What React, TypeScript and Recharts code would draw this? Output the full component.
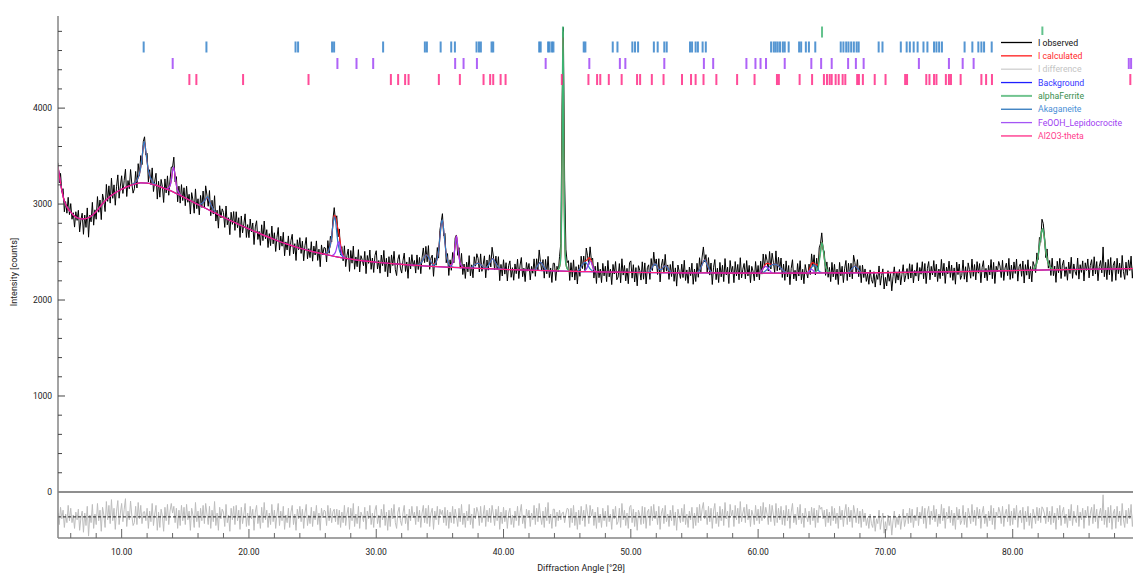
import { ComposedChart, Line, Scatter, XAxis, YAxis, ReferenceLine } from "recharts";

// scan grid: 5.0 .. 90.0 deg 2theta, 0.1 deg step
const ANGLE_START = 5.0;
const ANGLE_STEP = 0.1;

// I observed (counts), one row per degree
const observed = [
  3430, 3220, 3320, 3130, 3160, 2920, 3025, 2905, 3070, 2890,
  3005, 2842, 2910, 2760, 2920, 2830, 2935, 2710, 2837, 2905,
  2685, 2885, 2757, 2960, 2655, 2885, 2815, 3018, 2780, 2940,
  2842, 3078, 2915, 3042, 2838, 3105, 3038, 2922, 3205, 3028,
  3190, 3010, 3270, 3060, 3200, 2988, 3186, 3304, 3061, 3188,
  3295, 3111, 3247, 3363, 3079, 3245, 3160, 3360, 3210, 3114,
  3159, 3340, 3168, 3421, 3298, 3505, 3411, 3651, 3701, 3511,
  3528, 3231, 3358, 3205, 3377, 3131, 3239, 3321, 3052, 3237,
  3072, 3257, 3182, 3017, 3262, 3117, 3294, 3092, 3251, 3386,
  3385, 3489, 3232, 3286, 3024, 3187, 3010, 3203, 3037, 3170,
  2983, 3186, 3019, 3102, 2896, 3119, 3042, 2905, 3158, 2952,
  3055, 2888, 3090, 2965, 3136, 2962, 3190, 3094, 2977, 3141,
  2879, 3040, 2896, 3087, 2823, 2936, 2749, 2983, 2856, 2950,
  2913, 2757, 2980, 2784, 2858, 2681, 2915, 2789, 2922, 2726,
  2920, 2754, 2858, 2652, 2876, 2700, 2794, 2898, 2652, 2786,
  2650, 2844, 2709, 2803, 2578, 2762, 2826, 2631, 2715, 2570,
  2784, 2619, 2823, 2638, 2733, 2547, 2692, 2567, 2771, 2586,
  2701, 2506, 2651, 2756, 2521, 2666, 2561, 2706, 2461, 2606,
  2522, 2668, 2463, 2619, 2685, 2481, 2587, 2412, 2628, 2524,
  2650, 2486, 2613, 2409, 2566, 2652, 2429, 2535, 2442, 2608,
  2405, 2562, 2469, 2616, 2413, 2530, 2347, 2574, 2471, 2548,
  2542, 2397, 2619, 2487, 2664, 2606, 2844, 2963, 2821, 2878,
  2658, 2741, 2469, 2557, 2409, 2565, 2348, 2463, 2531, 2298,
  2516, 2384, 2562, 2321, 2449, 2347, 2525, 2293, 2462, 2420,
  2358, 2507, 2275, 2464, 2382, 2521, 2320, 2438, 2287, 2465,
  2514, 2323, 2412, 2280, 2469, 2358, 2517, 2296, 2435, 2243,
  2452, 2281, 2470, 2359, 2508, 2316, 2255, 2424, 2473, 2332,
  2281, 2410, 2489, 2298, 2397, 2226, 2445, 2324, 2473, 2352,
  2412, 2281, 2470, 2318, 2444, 2275, 2441, 2543, 2390, 2559,
  2398, 2567, 2320, 2436, 2468, 2247, 2440, 2363, 2547, 2437,
  2726, 2810, 2900, 2669, 2693, 2388, 2484, 2256, 2419, 2310,
  2495, 2388, 2647, 2678, 2466, 2546, 2332, 2486, 2266, 2375,
  2225, 2394, 2294, 2463, 2253, 2367, 2232, 2451, 2353, 2482,
  2435, 2292, 2481, 2299, 2368, 2460, 2232, 2417, 2311, 2471,
  2345, 2550, 2459, 2314, 2458, 2318, 2452, 2202, 2371, 2251,
  2420, 2270, 2389, 2199, 2358, 2408, 2237, 2337, 2206, 2376,
  2275, 2425, 2224, 2364, 2443, 2243, 2332, 2192, 2391, 2301,
  2381, 2210, 2350, 2279, 2429, 2247, 2430, 2313, 2522, 2402,
  2302, 2421, 2228, 2423, 2273, 2455, 2234, 2334, 2183, 2383,
  2383, 2203, 2352, 2292, 2452, 2591, 4001, 4841, 3250, 2530,
  2390, 2410, 2204, 2389, 2239, 2418, 2208, 2348, 2167, 2367,
  2247, 2457, 2328, 2458, 2308, 2542, 2462, 2370, 2554, 2414,
  2437, 2229, 2353, 2173, 2393, 2233, 2322, 2182, 2382, 2252,
  2352, 2192, 2412, 2242, 2321, 2161, 2371, 2271, 2401, 2211,
  2240, 2380, 2180, 2430, 2260, 2360, 2200, 2330, 2170, 2390,
  2408, 2228, 2368, 2188, 2338, 2148, 2358, 2308, 2208, 2398,
  2217, 2387, 2167, 2337, 2367, 2215, 2432, 2307, 2499, 2357,
  2428, 2266, 2431, 2189, 2356, 2426, 2281, 2476, 2301, 2366,
  2215, 2370, 2245, 2405, 2195, 2335, 2145, 2365, 2295, 2225,
  2374, 2234, 2414, 2204, 2314, 2174, 2344, 2254, 2384, 2164,
  2323, 2193, 2383, 2237, 2441, 2293, 2448, 2553, 2398, 2473,
  2287, 2442, 2260, 2386, 2162, 2342, 2422, 2212, 2332, 2182,
  2392, 2242, 2362, 2192, 2432, 2262, 2342, 2172, 2412, 2292,
  2351, 2181, 2401, 2251, 2371, 2211, 2441, 2231, 2321, 2381,
  2221, 2411, 2251, 2361, 2181, 2351, 2301, 2201, 2401, 2241,
  2360, 2210, 2405, 2270, 2480, 2340, 2475, 2413, 2302, 2506,
  2323, 2488, 2394, 2285, 2512, 2305, 2445, 2312, 2438, 2235,
  2374, 2205, 2408, 2240, 2360, 2160, 2330, 2420, 2220, 2310,
  2200, 2380, 2250, 2410, 2210, 2320, 2170, 2370, 2290, 2230,
  2374, 2266, 2481, 2349, 2471, 2261, 2436, 2306, 2544, 2587,
  2700, 2527, 2507, 2257, 2397, 2237, 2340, 2192, 2392, 2242,
  2372, 2212, 2322, 2162, 2392, 2252, 2352, 2182, 2332, 2412,
  2203, 2383, 2240, 2383, 2221, 2467, 2393, 2287, 2421, 2243,
  2359, 2181, 2364, 2234, 2324, 2194, 2274, 2164, 2314, 2214,
  2175, 2295, 2135, 2265, 2215, 2355, 2155, 2255, 2325, 2115,
  2236, 2146, 2306, 2196, 2276, 2096, 2246, 2346, 2176, 2286,
  2208, 2318, 2158, 2268, 2368, 2188, 2258, 2328, 2218, 2378,
  2229, 2369, 2179, 2309, 2249, 2389, 2199, 2339, 2269, 2399,
  2221, 2381, 2171, 2331, 2401, 2211, 2351, 2261, 2411, 2241,
  2373, 2193, 2323, 2223, 2423, 2253, 2383, 2173, 2343, 2273,
  2405, 2235, 2365, 2205, 2335, 2165, 2395, 2265, 2375, 2215,
  2257, 2417, 2217, 2347, 2187, 2387, 2317, 2227, 2427, 2247,
  2370, 2210, 2400, 2280, 2380, 2180, 2340, 2410, 2230, 2330,
  2202, 2362, 2262, 2422, 2222, 2392, 2172, 2352, 2292, 2402,
  2354, 2234, 2414, 2204, 2334, 2384, 2254, 2434, 2214, 2364,
  2227, 2397, 2277, 2427, 2197, 2347, 2377, 2247, 2407, 2177,
  2369, 2259, 2419, 2219, 2349, 2189, 2401, 2355, 2286, 2491,
  2422, 2652, 2602, 2842, 2797, 2662, 2442, 2532, 2332, 2412,
  2256, 2436, 2254, 2354, 2184, 2404, 2284, 2434, 2224, 2364,
  2416, 2246, 2346, 2206, 2396, 2276, 2446, 2226, 2376, 2296,
  2258, 2438, 2218, 2368, 2288, 2408, 2198, 2388, 2308, 2428,
  2231, 2361, 2421, 2251, 2451, 2271, 2401, 2201, 2351, 2411,
  2283, 2553, 2243, 2393, 2213, 2423, 2263, 2443, 2193, 2363,
  2405, 2205, 2435, 2275, 2385, 2235, 2465, 2295, 2215, 2395,
  2258, 2418, 2308, 2458, 2228, 2378, 2188, 2408, 2348, 2238,
  2370,
];

// I difference = observed - calculated, same grid
const difference = [
  40, -80, 100, -20, 70, -110, 30, -60, 120, -40,
  90, -60, 20, -120, 50, -30, 80, -140, -10, 60,
  -160, 40, -90, 110, -200, 20, -60, 130, -120, 30,
  -80, 140, -40, 70, -150, 100, 20, -110, 160, -30,
  120, -70, 180, -40, 90, -130, 60, 170, -80, 40,
  140, -50, 80, 190, -100, 60, -30, 165, 10, -90,
  -60, 110, -80, 150, -20, 120, -70, 50, 55, -40,
  90, -120, 60, -50, 140, -90, 30, 120, -140, 50,
  -110, 80, 10, -150, 100, -40, 130, -80, 60, 140,
  40, 110, -60, 90, -120, 70, -90, 120, -40, 100,
  -80, 130, -30, 60, -140, 90, 20, -110, 150, -50,
  60, -110, 90, -40, 120, -70, 140, 30, -80, 110,
  -120, 70, -50, 160, -90, 40, -140, 100, -20, 80,
  50, -100, 130, -60, 20, -150, 90, -30, 110, -80,
  120, -40, 70, -130, 100, -70, 30, 140, -100, 40,
  -90, 110, -20, 80, -140, 50, 120, -70, 20, -120,
  100, -60, 150, -30, 70, -110, 40, -80, 130, -50,
  70, -120, 30, 140, -90, 60, -40, 110, -130, 20,
  -60, 90, -110, 50, 120, -80, 30, -140, 80, -20,
  110, -50, 80, -120, 40, 130, -90, 20, -70, 100,
  -100, 60, -30, 120, -80, 40, -140, 90, -10, 70,
  60, -90, 120, -40, 90, -60, 55, 80, -50, 80,
  -80, 70, -110, 50, -60, 120, -90, 30, 100, -130,
  90, -40, 140, -100, 30, -70, 110, -120, 50, 10,
  -50, 100, -130, 60, -20, 120, -80, 40, -110, 70,
  120, -70, 20, -110, 80, -30, 130, -90, 50, -140,
  70, -100, 90, -20, 130, -60, -120, 50, 100, -40,
  -90, 40, 120, -70, 30, -140, 80, -40, 110, -10,
  50, -80, 110, -50, 70, -110, 40, 120, -60, 90,
  -70, 120, -100, 40, 90, -130, 60, -30, 110, -80,
  80, 25, 70, -60, 100, -90, 70, -120, 50, -60,
  110, -70, 80, 10, -100, 90, -50, 130, -80, 40,
  -110, 60, -40, 130, -80, 30, -120, 90, -20, 100,
  50, -90, 110, -60, 20, 120, -100, 70, -50, 90,
  -60, 120, 30, -90, 80, -40, 110, -130, 50, -70,
  100, -50, 70, -120, 40, 90, -80, 20, -110, 60,
  -40, 110, -90, 50, 130, -70, 20, -120, 80, -10,
  70, -100, 40, -30, 120, -80, 90, -50, 140, 10,
  -80, 60, -110, 100, -40, 150, -70, 30, -120, 80,
  80, -100, 50, -40, 70, -30, 40, 50, -60, 30,
  90, 80, -110, 90, -60, 120, -90, 50, -130, 70,
  -80, 110, -40, 70, -100, 130, 40, -70, 120, 10,
  80, -90, 50, -120, 100, -60, 30, -110, 90, -40,
  60, -100, 120, -50, 30, -130, 80, -20, 110, -80,
  -50, 90, -110, 140, -30, 70, -90, 40, -120, 100,
  120, -60, 80, -100, 50, -140, 70, 20, -80, 110,
  -70, 100, -120, 50, 80, -90, 110, -40, 130, -20,
  60, -80, 110, -130, 40, 90, -70, 120, -50, 30,
  -100, 70, -40, 120, -90, 50, -140, 80, 10, -60,
  90, -50, 130, -80, 30, -110, 60, -30, 100, -120,
  40, -90, 100, -60, 130, -40, 80, 150, -20, 70,
  -80, 110, -50, 90, -120, 60, 140, -70, 50, -100,
  110, -40, 80, -90, 150, -20, 60, -110, 130, 10,
  70, -100, 120, -30, 90, -70, 160, -50, 40, 100,
  -60, 130, -30, 80, -100, 70, 20, -80, 120, -40,
  80, -70, 110, -40, 150, -20, 100, 30, -80, 130,
  -50, 120, 20, -90, 140, -60, 90, -30, 110, -80,
  70, -90, 120, -40, 80, -120, 50, 140, -60, 30,
  -80, 100, -30, 130, -70, 40, -110, 90, 10, -50,
  60, -80, 100, -40, 90, -110, 70, -60, 120, 80,
  100, -20, 70, -100, 80, -60, 50, -90, 110, -40,
  90, -70, 40, -120, 110, -30, 70, -100, 50, 130,
  -80, 100, -50, 70, -110, 120, 40, -60, 90, -70,
  60, -110, 80, -50, 40, -90, -10, -120, 30, -70,
  -110, 10, -150, -20, -70, 70, -130, -30, 40, -170,
  -50, -140, 20, -90, -10, -190, -40, 60, -110, 0,
  -80, 30, -130, -20, 80, -100, -30, 40, -70, 90,
  -60, 80, -110, 20, -40, 100, -90, 50, -20, 110,
  -70, 90, -120, 40, 110, -80, 60, -30, 120, -50,
  80, -100, 30, -70, 130, -40, 90, -120, 50, -20,
  110, -60, 70, -90, 40, -130, 100, -30, 80, -80,
  -40, 120, -80, 50, -110, 90, 20, -70, 130, -50,
  70, -90, 100, -20, 80, -120, 40, 110, -70, 30,
  -100, 60, -40, 120, -80, 90, -130, 50, -10, 100,
  50, -70, 110, -100, 30, 80, -50, 130, -90, 60,
  -80, 90, -30, 120, -110, 40, 70, -60, 100, -130,
  60, -50, 110, -90, 40, -120, 80, 20, -70, 100,
  -40, 90, -60, 105, 80, 30, -70, 100, -50, 60,
  -80, 110, -60, 40, -130, 90, -30, 120, -90, 50,
  100, -70, 30, -110, 80, -40, 130, -90, 60, -20,
  -60, 120, -100, 50, -30, 90, -120, 70, -10, 110,
  -90, 40, 100, -70, 130, -50, 80, -120, 30, 90,
  -40, 230, -80, 70, -110, 100, -60, 120, -130, 40,
  80, -120, 110, -50, 60, -90, 140, -30, -110, 70,
  -70, 90, -20, 130, -100, 50, -140, 80, 20, -90,
  40,
];

// I calculated: [2theta, counts]
const calculated: [number, number][] = [
  [5.0, 3390], [5.25, 3180], [5.5, 3030], [5.75, 2960], [6.0, 2915], [6.5, 2858], [7.0, 2845], [7.5, 2865],
  [8.0, 2922], [8.5, 3005], [9.0, 3070], [9.5, 3118], [10.0, 3155], [10.5, 3185], [11.0, 3219], [11.1, 3230],
  [11.2, 3248], [11.3, 3271], [11.4, 3318], [11.5, 3385], [11.6, 3481], [11.7, 3601], [11.8, 3646], [11.9, 3551],
  [12.0, 3438], [12.1, 3351], [12.2, 3298], [12.3, 3255], [12.4, 3237], [12.5, 3221], [12.7, 3201], [13.0, 3182],
  [13.5, 3157], [13.6, 3164], [13.7, 3172], [13.8, 3191], [13.9, 3246], [14.0, 3345], [14.1, 3379], [14.2, 3292],
  [14.3, 3196], [14.4, 3144], [14.5, 3117], [14.7, 3083], [15.0, 3063], [15.5, 3029], [16.0, 2995], [16.2, 3000],
  [16.3, 3005], [16.4, 3016], [16.5, 3032], [16.6, 3050], [16.7, 3064], [16.8, 3057], [16.9, 3031], [17.0, 2999],
  [17.1, 2970], [17.2, 2946], [17.3, 2927], [17.5, 2896], [18.0, 2863], [19.0, 2800], [20.0, 2740], [21.0, 2684],
  [22.0, 2631], [23.0, 2582], [24.0, 2540], [25.0, 2505], [25.5, 2490], [26.0, 2482], [26.1, 2487], [26.2, 2499],
  [26.3, 2527], [26.4, 2574], [26.5, 2666], [26.6, 2789], [26.7, 2883], [26.8, 2871], [26.9, 2798], [27.0, 2738],
  [27.1, 2671], [27.2, 2579], [27.3, 2507], [27.4, 2469], [27.5, 2445], [27.7, 2433], [28.0, 2426], [29.0, 2408],
  [30.0, 2394], [31.0, 2382], [32.0, 2371], [33.0, 2362], [33.3, 2368], [33.4, 2374], [33.5, 2385], [33.6, 2401],
  [33.7, 2423], [33.8, 2450], [33.9, 2469], [34.0, 2468], [34.1, 2447], [34.2, 2420], [34.3, 2396], [34.4, 2378],
  [34.5, 2377], [34.6, 2380], [34.7, 2393], [34.8, 2437], [34.9, 2517], [35.0, 2646], [35.1, 2785], [35.2, 2830],
  [35.3, 2729], [35.4, 2593], [35.5, 2478], [35.6, 2414], [35.7, 2376], [35.8, 2369], [35.9, 2370], [36.0, 2385],
  [36.1, 2458], [36.2, 2567], [36.3, 2668], [36.4, 2566], [36.5, 2456], [36.6, 2382], [36.7, 2356], [36.8, 2346],
  [37.0, 2335], [37.5, 2337], [37.6, 2352], [37.7, 2361], [37.8, 2373], [37.9, 2382], [38.0, 2385], [38.1, 2382],
  [38.2, 2371], [38.3, 2359], [38.4, 2348], [38.5, 2340], [38.6, 2332], [38.7, 2347], [38.8, 2361], [38.9, 2381],
  [39.0, 2405], [39.1, 2430], [39.2, 2429], [39.3, 2404], [39.4, 2378], [39.5, 2358], [39.6, 2342], [39.7, 2332],
  [39.8, 2321], [41.0, 2315], [42.4, 2309], [42.5, 2327], [42.6, 2340], [42.7, 2363], [42.8, 2382], [42.9, 2392],
  [43.0, 2382], [43.1, 2361], [43.2, 2338], [43.3, 2323], [43.4, 2313], [43.6, 2305], [44.2, 2310], [44.35, 2330],
  [44.45, 2380], [44.52, 2560], [44.57, 3000], [44.62, 3900], [44.67, 4790], [44.72, 3900], [44.77, 3000], [44.82, 2560],
  [44.9, 2380], [45.0, 2330], [45.15, 2310], [45.5, 2298], [45.9, 2312], [46.0, 2327], [46.1, 2347], [46.2, 2368],
  [46.3, 2388], [46.4, 2406], [46.5, 2412], [46.6, 2422], [46.7, 2440], [46.8, 2434], [46.9, 2404], [47.0, 2357],
  [47.1, 2319], [47.2, 2303], [47.3, 2293], [49.0, 2290], [51.0, 2287], [51.4, 2287], [51.5, 2305], [51.6, 2322],
  [51.7, 2347], [51.8, 2369], [51.9, 2377], [52.0, 2368], [52.1, 2346], [52.2, 2321], [52.3, 2319], [52.4, 2316],
  [52.5, 2336], [52.6, 2351], [52.7, 2356], [52.8, 2351], [52.9, 2336], [53.0, 2315], [53.1, 2300], [53.2, 2285],
  [55.2, 2283], [55.3, 2297], [55.4, 2311], [55.5, 2333], [55.6, 2368], [55.7, 2403], [55.8, 2418], [55.9, 2403],
  [56.0, 2367], [56.1, 2332], [56.2, 2310], [56.3, 2296], [56.4, 2282], [60.1, 2280], [60.2, 2295], [60.3, 2310],
  [60.4, 2330], [60.5, 2360], [60.6, 2375], [60.7, 2383], [60.8, 2382], [60.9, 2376], [61.0, 2373], [61.1, 2368],
  [61.2, 2374], [61.3, 2375], [61.4, 2372], [61.5, 2365], [61.6, 2355], [61.7, 2342], [61.8, 2328], [61.9, 2315],
  [62.0, 2304], [62.1, 2295], [62.2, 2288], [62.3, 2280], [63.9, 2281], [64.0, 2314], [64.1, 2346], [64.2, 2381],
  [64.3, 2389], [64.4, 2381], [64.5, 2371], [64.6, 2366], [64.7, 2366], [64.8, 2424], [64.9, 2507], [65.0, 2600],
  [65.1, 2547], [65.2, 2437], [65.3, 2357], [65.4, 2317], [65.5, 2297], [65.6, 2290], [65.7, 2282], [67.1, 2283],
  [67.2, 2290], [67.3, 2313], [67.4, 2331], [67.5, 2347], [67.6, 2353], [67.7, 2347], [67.8, 2331], [67.9, 2313],
  [68.0, 2299], [68.1, 2291], [68.2, 2284], [70.0, 2286], [72.0, 2289], [74.0, 2293], [76.0, 2297], [78.0, 2302],
  [80.0, 2307], [81.5, 2311], [81.6, 2321], [81.7, 2335], [81.8, 2356], [81.9, 2391], [82.0, 2462], [82.1, 2562],
  [82.2, 2662], [82.3, 2737], [82.4, 2717], [82.5, 2632], [82.6, 2512], [82.7, 2432], [82.8, 2382], [82.9, 2352],
  [83.0, 2336], [83.1, 2326], [83.2, 2314], [84.0, 2316], [86.0, 2321], [88.0, 2325], [90.0, 2330],
];

// refined background
const background: [number, number][] = [
  [5.0, 3390], [5.25, 3180], [5.5, 3030], [5.75, 2960], [6.0, 2915], [6.5, 2858], [7.0, 2845], [7.5, 2865],
  [8.0, 2922], [8.5, 3005], [9.0, 3070], [9.5, 3118], [10.0, 3155], [10.5, 3185], [11.0, 3207], [11.5, 3220],
  [12.0, 3218], [12.5, 3203], [13.0, 3182], [13.5, 3157], [14.0, 3130], [14.5, 3097], [15.0, 3063], [16.0, 2995],
  [17.0, 2929], [18.0, 2863], [19.0, 2800], [20.0, 2740], [21.0, 2684], [22.0, 2631], [23.0, 2582], [24.0, 2540],
  [25.0, 2505], [26.0, 2475], [27.0, 2448], [28.0, 2426], [29.0, 2408], [30.0, 2394], [32.0, 2371], [34.0, 2353],
  [36.0, 2340], [38.0, 2330], [40.0, 2320], [42.0, 2311], [44.0, 2303], [46.0, 2297], [48.0, 2292], [50.0, 2288],
  [54.0, 2284], [58.0, 2281], [62.0, 2280], [66.0, 2282], [70.0, 2286], [74.0, 2293], [78.0, 2302], [82.0, 2312],
  [86.0, 2321], [90.0, 2330],
];

// phase profiles (background + phase), one array per peak group
const akaganeite: [number, number][][] = [
  [[10.8, 3203], [11.0, 3219], [11.2, 3248], [11.4, 3318], [11.5, 3385], [11.6, 3481], [11.7, 3601], [11.78, 3650],
   [11.9, 3551], [12.0, 3438], [12.1, 3351], [12.2, 3298], [12.4, 3237], [12.7, 3201]],
  [[16.0, 2995], [16.2, 3000], [16.4, 3016], [16.5, 3032], [16.6, 3050], [16.75, 3074], [16.9, 3031], [17.0, 2999],
   [17.2, 2946], [17.4, 2913]],
  [[26.0, 2482], [26.2, 2499], [26.3, 2527], [26.4, 2574], [26.5, 2666], [26.6, 2781], [26.72, 2868], [26.8, 2826],
   [26.9, 2703], [27.0, 2588], [27.1, 2521], [27.2, 2484], [27.3, 2462], [27.5, 2437]],
  [[33.2, 2361], [33.4, 2374], [33.6, 2401], [33.8, 2450], [33.95, 2472], [34.1, 2447], [34.3, 2396], [34.5, 2361],
   [34.7, 2394], [34.8, 2438], [34.9, 2519], [35.0, 2646], [35.1, 2785], [35.18, 2835], [35.3, 2729], [35.4, 2593],
   [35.5, 2478], [35.6, 2414], [35.7, 2376], [35.9, 2350], [36.1, 2339]],
  [[37.4, 2333], [37.6, 2352], [37.8, 2372], [38.0, 2385], [38.2, 2371], [38.4, 2348], [38.6, 2332], [38.8, 2361],
   [39.0, 2405], [39.15, 2432], [39.3, 2404], [39.5, 2358], [39.7, 2332], [39.9, 2321]],
  [[42.4, 2309], [42.6, 2340], [42.8, 2382], [42.9, 2392], [43.0, 2382], [43.2, 2338], [43.4, 2313]],
  [[45.8, 2297], [46.0, 2327], [46.2, 2368], [46.4, 2396], [46.6, 2367], [46.8, 2324], [47.0, 2302]],
  [[51.4, 2287], [51.6, 2322], [51.8, 2368], [51.9, 2376], [52.0, 2368], [52.2, 2321], [52.4, 2316], [52.6, 2351],
   [52.7, 2356], [52.8, 2351], [53.0, 2315], [53.2, 2285]],
  [[55.2, 2283], [55.4, 2311], [55.6, 2368], [55.8, 2418], [56.0, 2367], [56.2, 2310], [56.4, 2282]],
  [[60.3, 2280], [60.5, 2295], [60.7, 2318], [60.9, 2346], [61.1, 2368], [61.3, 2375], [61.5, 2365], [61.7, 2342],
   [61.9, 2315], [62.1, 2295], [62.3, 2282]],
  [[63.8, 2281], [64.0, 2299], [64.2, 2341], [64.4, 2366], [64.6, 2341], [64.8, 2299], [65.0, 2287]],
  [[67.0, 2283], [67.2, 2298], [67.4, 2331], [67.6, 2353], [67.8, 2331], [68.0, 2299], [68.2, 2284]],
];

const lepidocrocite: [number, number][][] = [
  [[13.5, 3157], [13.7, 3172], [13.8, 3191], [13.9, 3246], [14.0, 3345], [14.08, 3386], [14.2, 3292], [14.3, 3196],
   [14.4, 3144], [14.5, 3117], [14.7, 3083]],
  [[26.5, 2461], [26.7, 2478], [26.8, 2501], [26.9, 2548], [27.0, 2598], [27.05, 2606], [27.1, 2596], [27.2, 2539],
   [27.3, 2480], [27.4, 2459], [27.6, 2435]],
  [[35.8, 2351], [36.0, 2385], [36.1, 2458], [36.2, 2567], [36.3, 2668], [36.4, 2566], [36.5, 2456], [36.6, 2382],
   [36.8, 2346]],
  [[46.3, 2296], [46.5, 2320], [46.6, 2350], [46.7, 2390], [46.8, 2404], [46.9, 2389], [47.0, 2349], [47.1, 2319],
   [47.3, 2293]],
  [[60.1, 2280], [60.3, 2310], [60.5, 2345], [60.6, 2350], [60.7, 2345], [60.9, 2310], [61.1, 2280]],
  [[63.9, 2281], [64.1, 2311], [64.2, 2321], [64.3, 2311], [64.5, 2281]],
];

const alphaFerrite: [number, number][][] = [
  [[44.2, 2303], [44.35, 2330], [44.45, 2380], [44.52, 2560], [44.57, 3000], [44.62, 3900], [44.67, 4790], [44.72, 3900],
   [44.77, 3000], [44.82, 2560], [44.9, 2380], [45.0, 2330], [45.15, 2305]],
  [[64.5, 2293], [64.7, 2331], [64.8, 2406], [64.9, 2499], [65.0, 2600], [65.1, 2547], [65.2, 2437], [65.3, 2357],
   [65.4, 2317], [65.6, 2290]],
  [[81.6, 2321], [81.8, 2356], [81.9, 2391], [82.0, 2462], [82.1, 2562], [82.2, 2662], [82.33, 2742], [82.4, 2717],
   [82.5, 2632], [82.6, 2512], [82.7, 2432], [82.8, 2382], [83.0, 2336], [83.2, 2314]],
];

// reflection positions (deg 2theta)
const alphaFerriteRefl = [44.67, 65.02, 82.33];
const akaganeiteRefl = [
  11.73, 16.66, 23.66, 23.86, 26.53, 26.69, 30.54, 33.82, 33.98, 35.06, 35.89, 36.18, 37.88, 38.07, 38.22,
  39.06, 39.19, 42.8, 42.92, 43.5, 43.62, 43.8, 43.92, 46.3, 46.43, 48.58, 48.95, 50.12, 50.33, 50.57, 51.81,
  52.11, 52.63, 52.82, 54.65, 54.81, 55.09, 55.27, 55.64, 55.89, 61.02, 61.23, 61.38, 61.54, 61.72, 61.94,
  62.09, 62.4, 63.22, 63.38, 63.75, 63.99, 64.49, 66.49, 66.7, 66.92, 67.1, 67.31, 67.52, 67.74, 67.9, 69.47,
  69.77, 71.21, 71.67, 71.92, 72.22, 72.53, 72.99, 73.3, 73.82, 74.01, 74.22, 74.44, 76.22, 76.83, 77.3,
  77.54, 77.75, 78.35,
];
const lepidocrociteRefl = [
  14.01, 26.95, 28.45, 29.76, 36.2, 36.86, 37.91, 43.31, 46.74, 49.14, 49.57, 52.63, 55.74, 56.47, 59.08,
  59.79, 60.19, 60.62, 62.09, 64.18, 64.95, 65.78, 67.07, 67.68, 68.29, 72.63, 74.99, 76.07, 76.93, 89.12, 89.3,
];
const al2o3Refl = [
  15.32, 15.87, 19.54, 24.68, 31.15, 31.72, 32.27, 32.54, 34.92, 36.57, 38.43, 38.95, 39.19, 39.77, 40.16,
  44.58, 46.67, 47.35, 47.6, 48.27, 49.28, 50.49, 50.73, 51.65, 52.57, 54.02, 54.73, 55.09, 55.71, 56.72,
  58.35, 59.72, 61.48, 61.63, 63.26, 64.24, 65.17, 65.41, 65.62, 65.78, 66.09, 66.33, 66.64, 66.85, 67.78,
  67.92, 68.23, 69.16, 70.01, 71.55, 71.7, 73.21, 73.46, 73.82, 74.01, 74.75, 74.99, 75.15, 75.91, 77.54,
  77.91, 78.37, 89.24,
];

const xTicks = [6, 8, 10, 12, 14, 16, 18, 20, 22, 24, 26, 28, 30, 32, 34, 36, 38, 40, 42, 44, 46, 48, 50,
  52, 54, 56, 58, 60, 62, 64, 66, 68, 70, 72, 74, 76, 78, 80, 82, 84, 86, 88];
const yTicks = [0, 200, 400, 600, 800, 1000, 1200, 1400, 1600, 1800, 2000, 2200, 2400, 2600, 2800, 3000,
  3200, 3400, 3600, 3800, 4000, 4200, 4400, 4600, 4800];

const COLORS = {
  observed: "#000000",
  calculated: "#ff1a1a",
  difference: "#bdbdbd",
  background: "#1f1fff",
  alphaFerrite: "#3cb371",
  akaganeite: "#2a7cc7",
  lepidocrocite: "#9b3cf5",
  al2o3: "#ff1f7f",
};

// difference trace sits in the strip below zero
const DIFF_BASELINE = -260;
// marker rows for the reflection lists
const ROW_Y = { alphaFerrite: 4793, akaganeite: 4637, lepidocrocite: 4465, al2o3: 4298 };

const FONT = "Roboto, 'Noto Sans', sans-serif";
const AXIS_GREY = "#858585";

const scanRows = observed.map((v, i) => ({
  x: Math.round((ANGLE_START + i * ANGLE_STEP) * 10) / 10,
  obs: v,
  diff: difference[i],
}));
const toXY = (pts: [number, number][]) => pts.map(([x, y]) => ({ x, y }));
const toMarks = (list: number[], y: number) => list.map((x) => ({ x, y }));

const legendRows = [
  { name: "I observed", line: COLORS.observed, text: "#111", w: 1.3 },
  { name: "I calculated", line: COLORS.calculated, text: "#ff2a2a", w: 1.3 },
  { name: "I difference", line: "#cfcfcf", text: "#c4c4c4", w: 1.3 },
  { name: "Background", line: COLORS.background, text: "#3434ff", w: 1.3 },
  { name: "alphaFerrite", line: "#72c490", text: "#3a8f50", w: 2 },
  { name: "Akaganeite", line: "#2f78bd", text: "#4a8fd6", w: 1.3 },
  { name: "FeOOH_Lepidocrocite", line: "#a455f5", text: "#a040f2", w: 1.3 },
  { name: "Al2O3-theta", line: "#ff2a86", text: "#ff3d8d", w: 1.3 },
];

function BottomTick(props: any) {
  const { x, y, payload } = props;
  const major = payload.value % 10 === 0;
  return (
    <g>
      <line x1={x} x2={x} y1={y} y2={y - (major ? 9 : 5)} stroke="#666" strokeWidth={1} />
      {major && (
        <text x={x} y={y + 17} textAnchor="middle" fontSize={8.5} fontFamily={FONT} fill="#222">
          {payload.value.toFixed(2)}
        </text>
      )}
    </g>
  );
}

function TopTick(props: any) {
  const { x, y, payload } = props;
  const major = payload.value % 10 === 0;
  return <line x1={x} x2={x} y1={y} y2={y + (major ? 6 : 4)} stroke="#666" strokeWidth={1} />;
}

function LeftTick(props: any) {
  const { x, y, payload } = props;
  const major = payload.value % 1000 === 0;
  return (
    <g>
      {payload.value !== 0 && (
        <line x1={x} x2={x + (major ? 7 : 4)} y1={y} y2={y} stroke="#444" strokeWidth={1} />
      )}
      {major && (
        <text x={x - 6} y={y + 3} textAnchor="end" fontSize={8.5} fontFamily={FONT} fill="#222">
          {payload.value}
        </text>
      )}
    </g>
  );
}

const reflMark = (color: string) => (p: any) =>
  <rect x={p.cx - 1} y={p.cy - 5.5} width={2} height={11} fill={color} fillOpacity={0.8} />;

// legend box drawn over the upper right corner of the plot
function Legend() {
  return (
    <svg
      width={132}
      height={110}
      style={{ position: "absolute", left: 1000, top: 35, overflow: "visible" }}
    >
      <rect x={0} y={0} width={124} height={110} fill="#fff" />
      {legendRows.map((r, i) => {
        const y = 7.5 + i * 13.35;
        return (
          <g key={r.name}>
            <line x1={1} x2={32} y1={y} y2={y} stroke={r.line} strokeWidth={r.w} />
            <text x={38} y={y + 3.2} fontSize={8.7} fontFamily={FONT} fill={r.text}>
              {r.name}
            </text>
          </g>
        );
      })}
    </svg>
  );
}

export default function App() {
  return (
    <div
      style={{
        position: "fixed",
        left: 0,
        top: 0,
        width: 1133,
        height: 575,
        overflow: "hidden",
        background: "#fff",
      }}
    >
      <ComposedChart width={1150} height={575} margin={{ top: 16, right: 10, bottom: 0, left: 0 }}>
        <XAxis
          xAxisId="bottom"
          dataKey="x"
          type="number"
          domain={[5, 90]}
          allowDataOverflow
          ticks={xTicks}
          interval={0}
          height={37}
          tickLine={false}
          tickSize={0}
          tickMargin={0}
          tick={<BottomTick />}
          axisLine={{ stroke: AXIS_GREY, strokeWidth: 1.5 }}
          label={{
            value: "Diffraction Angle [°2θ]",
            position: "insideBottom",
            offset: 4,
            dx: -18,
            style: { fontSize: 9, fontFamily: FONT, fill: "#222" },
          }}
        />
        <XAxis
          xAxisId="top"
          orientation="top"
          dataKey="x"
          type="number"
          domain={[5, 90]}
          allowDataOverflow
          ticks={xTicks}
          interval={0}
          height={0}
          tickLine={false}
          tickSize={0}
          tickMargin={0}
          tick={<TopTick />}
          axisLine={{ stroke: AXIS_GREY, strokeWidth: 1.5 }}
        />
        <YAxis
          dataKey="y"
          type="number"
          domain={[-480, 4960]}
          allowDataOverflow
          ticks={yTicks}
          interval={0}
          width={58}
          tickLine={false}
          tickSize={0}
          tickMargin={0}
          tick={<LeftTick />}
          axisLine={{ stroke: AXIS_GREY, strokeWidth: 1.5 }}
          label={{
            content: (p: any) => {
              const vb = p.viewBox;
              const cx = vb.x + 15;
              const cy = vb.y + vb.height / 2 - 5;
              return (
                <text
                  x={cx}
                  y={cy}
                  transform={`rotate(-90 ${cx} ${cy})`}
                  textAnchor="middle"
                  dominantBaseline="middle"
                  fontSize={9}
                  fontFamily={FONT}
                  fill="#222"
                >
                  Intensity [counts]
                </text>
              );
            },
          }}
        />

        <Scatter xAxisId="top" data={toMarks(akaganeiteRefl, ROW_Y.akaganeite)} dataKey="y"
          shape={reflMark(COLORS.akaganeite)} isAnimationActive={false} />
        <Scatter xAxisId="top" data={toMarks(lepidocrociteRefl, ROW_Y.lepidocrocite)} dataKey="y"
          shape={reflMark(COLORS.lepidocrocite)} isAnimationActive={false} />
        <Scatter xAxisId="top" data={toMarks(al2o3Refl, ROW_Y.al2o3)} dataKey="y"
          shape={reflMark(COLORS.al2o3)} isAnimationActive={false} />
        <Scatter xAxisId="top" data={toMarks(alphaFerriteRefl, ROW_Y.alphaFerrite)} dataKey="y"
          shape={reflMark(COLORS.alphaFerrite)} isAnimationActive={false} />

        <ReferenceLine xAxisId="bottom" y={0} stroke="#6a6a6a" strokeWidth={1.5} />
        <Line xAxisId="bottom" data={scanRows} dataKey={(r: any) => r.diff + DIFF_BASELINE} type="linear"
          stroke={COLORS.difference} strokeWidth={1} dot={false} activeDot={false} isAnimationActive={false} />
        <ReferenceLine xAxisId="bottom" y={DIFF_BASELINE} stroke="#222" strokeWidth={1} strokeDasharray="3 2" />

        <Line xAxisId="bottom" data={scanRows} dataKey="obs" type="linear" stroke={COLORS.observed}
          strokeWidth={1} dot={false} activeDot={false} isAnimationActive={false} />
        <Line xAxisId="bottom" data={toXY(calculated)} dataKey="y" type="monotone" stroke={COLORS.calculated}
          strokeWidth={1.2} dot={false} activeDot={false} isAnimationActive={false} />
        <Line xAxisId="bottom" data={toXY(background)} dataKey="y" type="monotone" stroke={COLORS.background}
          strokeWidth={1.2} dot={false} activeDot={false} isAnimationActive={false} />
        {akaganeite.map((seg, i) => (
          <Line key={`aka${i}`} xAxisId="bottom" data={toXY(seg)} dataKey="y" type="monotone"
            stroke={COLORS.akaganeite} strokeWidth={1.2} dot={false} activeDot={false} isAnimationActive={false} />
        ))}
        {lepidocrocite.map((seg, i) => (
          <Line key={`lep${i}`} xAxisId="bottom" data={toXY(seg)} dataKey="y" type="monotone"
            stroke={COLORS.lepidocrocite} strokeWidth={1.2} dot={false} activeDot={false} isAnimationActive={false} />
        ))}
        {alphaFerrite.map((seg, i) => (
          <Line key={`fer${i}`} xAxisId="bottom" data={toXY(seg)} dataKey="y" type="monotone"
            stroke={COLORS.alphaFerrite} strokeWidth={1.5} dot={false} activeDot={false} isAnimationActive={false} />
        ))}
        <Line xAxisId="bottom" data={toXY(background)} dataKey="y" type="monotone" stroke={COLORS.al2o3}
          strokeWidth={1.2} dot={false} activeDot={false} isAnimationActive={false} />
      </ComposedChart>
      <Legend />
    </div>
  );
}
